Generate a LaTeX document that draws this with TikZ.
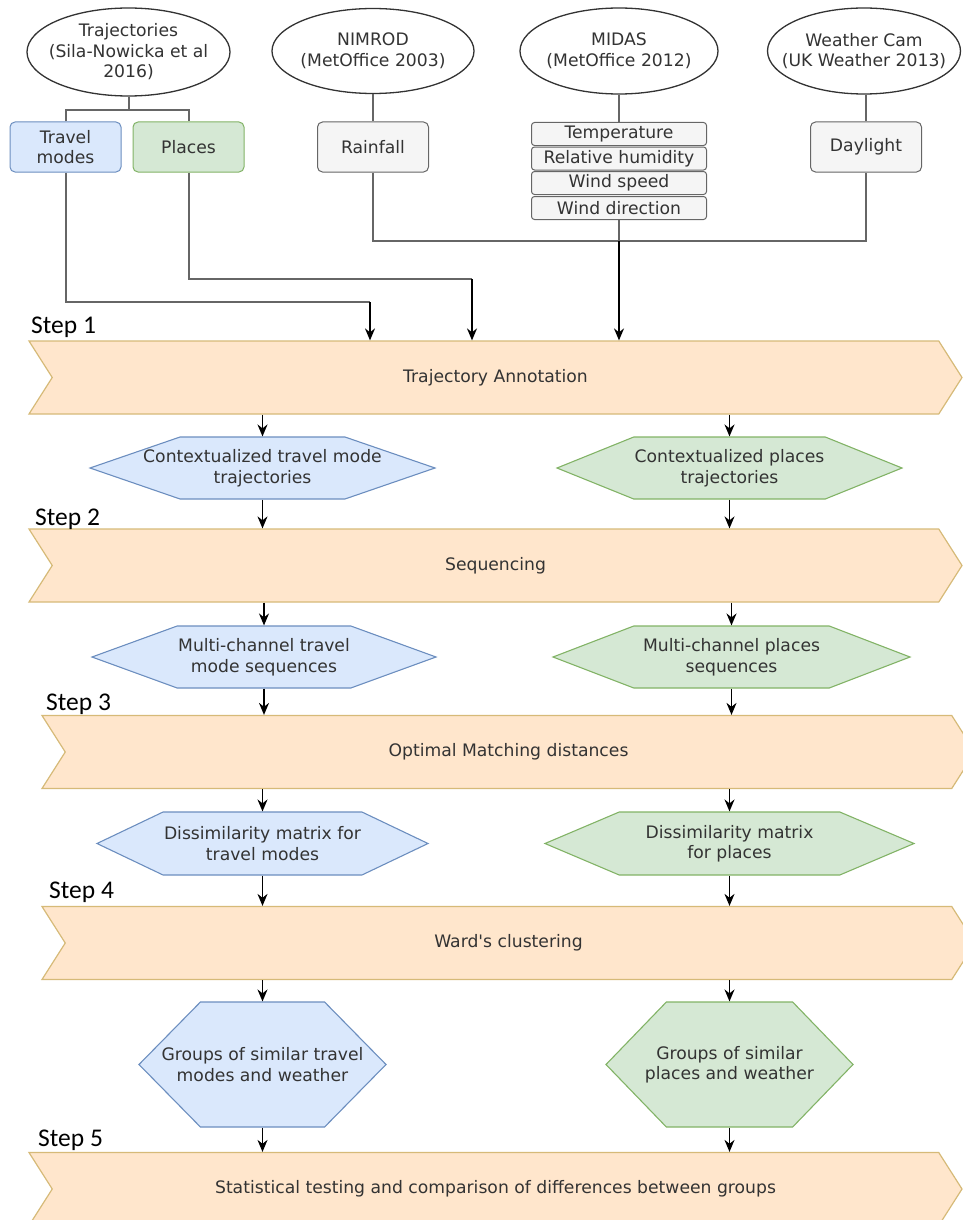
\documentclass[tikz,border=0pt]{standalone}
\usepackage{fontspec}
\usetikzlibrary{shapes.geometric,shapes.symbols,arrows.meta}
\newfontfamily\labfont{DejaVu Sans}
\newfontfamily\stepfont{Carlito}
\definecolor{bluefill}{HTML}{DAE8FC}
\definecolor{blueline}{HTML}{6C8EBF}
\definecolor{greenfill}{HTML}{D5E8D4}
\definecolor{greenline}{HTML}{82B366}
\definecolor{greyfill}{HTML}{F5F5F5}
\definecolor{greyline}{HTML}{666666}
\definecolor{bandfill}{HTML}{FFE6CC}
\definecolor{bandline}{HTML}{D6BA78}
\definecolor{txt}{HTML}{333333}
\tikzset{
  every node/.style={font=\labfont\fontsize{17.2}{20.5}\selectfont, text=txt, align=center, inner sep=0pt},
  source/.style={ellipse, draw=black!80, line width=1.3pt, fill=white, inner sep=-14pt},
  databox/.style={rounded corners=5pt, draw=greyline, fill=greyfill, line width=1pt, minimum width=111pt, minimum height=50pt},
  midrow/.style={rounded corners=3pt, draw=greyline, fill=greyfill, line width=1pt, minimum width=175pt, minimum height=23pt},
  band/.style={signal, signal to=east, signal from=west, signal pointer angle=115, draw=bandline, fill=bandfill, line width=1.2pt, minimum width=933pt, minimum height=73pt},
  hexa/.style={signal, signal to=east and west, line width=1.1pt},
  tmhex/.style={hexa, fill=bluefill, draw=blueline},
  plhex/.style={hexa, fill=greenfill, draw=greenline},
  steplab/.style={font=\stepfont\fontsize{25.5}{30}\selectfont, text=black, anchor=base west},
  link/.style={draw=greyline, line width=2pt},
  flow/.style={-{Stealth[length=12pt,width=10pt]}, draw=black, line width=1.5pt}
}
\begin{document}
\begin{tikzpicture}[x=1pt,y=-1pt]
\clip (0,0) rectangle (963,1220);
\node[source, minimum width=203pt, minimum height=88pt] (traj) at (128.5,52) {Trajectories\\(Sila-Nowicka et al\\2016)};
\node[source, minimum width=202pt, minimum height=85pt] (nim) at (373,51) {NIMROD\\(MetOffice 2003)};
\node[source, minimum width=198pt, minimum height=86pt] (mid) at (619,51) {MIDAS\\(MetOffice 2012)};
\node[source, minimum width=193pt, minimum height=86pt] (wcam) at (864,51) {Weather Cam\\(UK Weather 2013)};
\node[databox, fill=bluefill, draw=blueline] (tm) at (65.5,147) {Travel\\modes};
\node[databox, fill=greenfill, draw=greenline] (pl) at (188.5,147) {Places};
\node[databox] (rain) at (373,147) {Rainfall};
\node[databox] (day) at (866,147) {Daylight};
\foreach \i/\ypos/\txt in {1/134/Temperature,2/158.5/Relative humidity,3/183/Wind speed,4/208/Wind direction}{
  \node[midrow] (mt\i) at (619,\ypos) {\txt};
}
\foreach \i/\xpos/\ypos/\txt in {1/495.5/377.5/Trajectory Annotation,2/495.5/565.5/Sequencing,3/508.5/752/Optimal Matching distances,4/508.5/943/Ward's clustering,5/495.5/1189/Statistical testing and comparison of differences between groups}{
  \node[band] (s\i) at (\xpos,\ypos) {\txt};
}
\node[steplab] (st1) at (31,333) {Step 1};
\node[steplab] (st2) at (35,525) {Step 2};
\node[steplab] (st3) at (46,710) {Step 3};
\node[steplab] (st4) at (49,898) {Step 4};
\node[steplab] (st5) at (38,1146) {Step 5};
\node[tmhex, minimum width=345pt, minimum height=62pt, signal pointer angle=38, label=center:{Contextualized travel mode\\trajectories}] (ctm) at (262.5,468) {};
\node[plhex, minimum width=345pt, minimum height=62pt, signal pointer angle=44, label=center:{Contextualized places\\trajectories}] (cpl) at (729.5,468) {};
\node[tmhex, minimum width=344pt, minimum height=62pt, signal pointer angle=40, label=center:{Multi-channel travel\\mode sequences}] (mtm) at (264,657) {};
\node[plhex, minimum width=357pt, minimum height=62pt, signal pointer angle=42, label=center:{Multi-channel places\\sequences}] (mpl) at (731.5,657) {};
\node[tmhex, minimum width=331pt, minimum height=63pt, signal pointer angle=51, label=center:{Dissimilarity matrix for\\travel modes}] (dtm) at (262.5,843.5) {};
\node[plhex, minimum width=369pt, minimum height=63pt, signal pointer angle=46, label=center:{Dissimilarity matrix\\for places}] (dpl) at (729.5,843.5) {};
\node[tmhex, minimum width=247pt, minimum height=125pt, signal pointer angle=91, label=center:{Groups of similar travel\\modes and weather}] (gtm) at (262.5,1064.5) {};
\node[plhex, minimum width=247pt, minimum height=125pt, signal pointer angle=92, label=center:{Groups of similar\\places and weather}] (gpl) at (729.5,1064.5) {};
\coordinate (fork) at (128.5,110);
\coordinate (wjoin) at (619,241);
\coordinate (tmbend) at (370,302);
\coordinate (plbend) at (472,279);
\draw[link] (traj.south) -- (fork);
\draw[link] (tm.north) |- (fork) -| (pl.north);
\draw[link] (nim.south) -- (rain.north);
\draw[link] (mid.south) -- (mt1.north);
\draw[link] (wcam.south -| day.north) -- (day.north);
\draw[link] (rain.south) |- (wjoin) -| (day.south);
\draw[link] (mt4.south) -- (wjoin);
\draw[link] (tm.south) |- (tmbend);
\draw[link] (pl.south) |- (plbend);
\draw[flow] (tmbend) -- (tmbend |- s1.north);
\draw[flow] (plbend) -- (plbend |- s1.north);
\draw[flow] (wjoin) -- (wjoin |- s1.north);
\foreach \a/\b in {s1/ctm,s1/cpl,s2/mtm,s2/mpl,s3/dtm,s3/dpl,s4/gtm,s4/gpl}
  \draw[flow] (\b.north |- \a.south) -- (\b.north);
\foreach \a/\b in {ctm/s2,cpl/s2,mtm/s3,mpl/s3,dtm/s4,dpl/s4,gtm/s5,gpl/s5}
  \draw[flow] (\a.south) -- (\a.south |- \b.north);
\end{tikzpicture}
\end{document}
